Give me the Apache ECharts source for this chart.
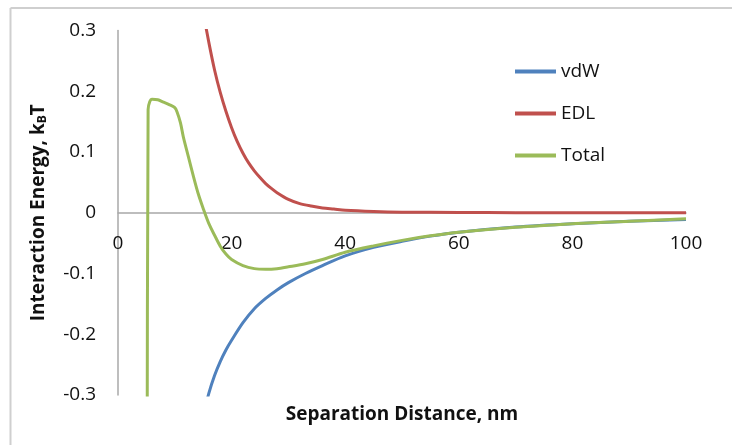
<!DOCTYPE html>
<html>
<head>
<meta charset="utf-8">
<script src="https://cdn.jsdelivr.net/npm/echarts@6/dist/echarts.min.js"></script>
<style>
html,body{margin:0;padding:0;background:#fff;}
#chart{width:732px;height:445px;}
</style>
</head>
<body>
<div id="chart"></div>
<script>
// Data (x = separation distance in nm, y = energy in kBT)
const seriesNames = ['vdW', 'EDL', 'Total'];
const xTicks = [0, 20, 40, 60, 80, 100];
const yTicks = [-0.3, -0.2, -0.1, 0, 0.1, 0.2, 0.3];

const vdwX = [15, 16, 17, 18, 19, 20, 22, 24, 26, 28, 30, 33, 36, 40, 45, 50, 55, 60, 70, 80, 90, 100];
const vdwY = [-0.335, -0.297, -0.268, -0.245, -0.226, -0.210, -0.181, -0.158, -0.141, -0.127, -0.115, -0.100, -0.087, -0.071, -0.057, -0.047, -0.0385, -0.032, -0.0235, -0.018, -0.014, -0.011];

const edlX = [15, 16, 17, 18, 19, 20, 21, 22, 23, 24, 25, 26, 27, 28, 30, 32, 34, 36, 38, 40, 45, 50, 60, 70, 80, 90, 100];
const edlY = [0.33, 0.28, 0.235, 0.198, 0.167, 0.140, 0.117, 0.098, 0.082, 0.069, 0.058, 0.048, 0.040, 0.033, 0.022, 0.015, 0.011, 0.008, 0.006, 0.004, 0.002, 0.001, 0.0005, 0.0002, 0.0001, 0.0001, 0.0001];

const totalX = [5.1, 5.3, 5.6, 6.0, 7.0, 8.0, 9.0, 10.0, 10.4, 11.0, 11.5, 12.4, 13.3, 14.1, 15.0, 16.0, 17.0, 18.0, 19.0, 20.0, 22.0, 24.0, 26.0, 28.0, 30.0, 33.0, 36.0, 40.0, 45.0, 50.0, 55.0, 60.0, 70.0, 80.0, 90.0, 100.0];
const totalY = [-0.6, 0.17, 0.183, 0.187, 0.186, 0.182, 0.178, 0.173, 0.166, 0.148, 0.125, 0.092, 0.059, 0.032, 0.007, -0.018, -0.037, -0.055, -0.068, -0.077, -0.087, -0.092, -0.093, -0.092, -0.089, -0.084, -0.077, -0.065, -0.0545, -0.0455, -0.038, -0.032, -0.024, -0.018, -0.014, -0.010];

function pairs(xs, ys) { return xs.map((x, i) => [x, ys[i]]); }

const FONT = 'Open Sans';
const chart = echarts.init(document.getElementById('chart'), null, {renderer: 'canvas'});
chart.setOption({
  backgroundColor: '#fff',
  animation: false,
  textStyle: {fontFamily: FONT},
  grid: [
    {left: 118, right: 46, top: 30.5, bottom: 50, containLabel: false, outerBoundsMode: 'none'},
    // helper grid whose bottom edge sits on y = 0, so the x tick labels hang just under the zero line
    {left: 118, right: 46, top: 30.5, bottom: 232.3, containLabel: false, outerBoundsMode: 'none'}
  ],
  legend: {
    orient: 'vertical',
    left: 515,
    top: 62,
    padding: 0,
    data: seriesNames,
    icon: 'rect',
    itemWidth: 41,
    itemHeight: 4,
    itemGap: 23,
    textStyle: {fontFamily: FONT, fontSize: 19, color: '#111'}
  },
  xAxis: [
    {
      type: 'value',
      gridIndex: 0,
      min: xTicks[0],
      max: xTicks[xTicks.length - 1],
      interval: 20,
      axisLine: {onZero: true, lineStyle: {color: '#a8a8a8', width: 1.5}},
      axisTick: {show: false},
      splitLine: {show: false},
      axisLabel: {show: false},
      name: 'Separation Distance, nm',
      nameLocation: 'middle',
      nameGap: 10,
      nameTextStyle: {fontSize: 19, fontWeight: 'bold', color: '#111', fontFamily: FONT}
    },
    {
      type: 'value',
      gridIndex: 1,
      min: xTicks[0],
      max: xTicks[xTicks.length - 1],
      interval: 20,
      axisLine: {show: false},
      axisTick: {show: false},
      splitLine: {show: false},
      axisLabel: {margin: 21, fontSize: 19, color: '#111', fontFamily: FONT}
    }
  ],
  yAxis: [
    {
      type: 'value',
      gridIndex: 0,
      min: yTicks[0],
      max: yTicks[yTicks.length - 1],
      interval: 0.1,
      axisLine: {show: true, onZero: false, lineStyle: {color: '#a8a8a8', width: 1.5}},
      axisTick: {show: false},
      splitLine: {show: false},
      axisLabel: {margin: 22, fontSize: 19, color: '#111', fontFamily: FONT,
        formatter: v => (Math.round(v * 10) / 10).toString()},
      name: 'Interaction Energy, k{sub|B}T',
      nameLocation: 'middle',
      nameGap: 69,
      nameTextStyle: {fontSize: 19, fontWeight: 'bold', color: '#111', fontFamily: FONT,
        rich: {sub: {fontSize: 12, fontWeight: 'bold', color: '#111', fontFamily: FONT, verticalAlign: 'bottom', padding: [9, 0, 0, 0]}}}
    },
    {
      type: 'value',
      gridIndex: 1,
      min: 0,
      max: 1,
      show: false
    }
  ],
  series: [
    {name: 'vdW', type: 'line', data: pairs(vdwX, vdwY), showSymbol: false, symbol: 'none', smooth: 0.3, clip: true,
      color: '#4F81BD', lineStyle: {width: 3, color: '#4F81BD'}},
    {name: 'EDL', type: 'line', data: pairs(edlX, edlY), showSymbol: false, symbol: 'none', smooth: 0.3, clip: true,
      color: '#C0504D', lineStyle: {width: 3, color: '#C0504D'}},
    {name: 'Total', type: 'line', data: pairs(totalX, totalY), showSymbol: false, symbol: 'none', smooth: 0.3, clip: true,
      color: '#9BBB59', lineStyle: {width: 3, color: '#9BBB59'}}
  ],
  graphic: [
    {type: 'line', shape: {x1: 10.5, y1: 8, x2: 732, y2: 8}, style: {stroke: '#cfcfcf', lineWidth: 2}, silent: true},
    {type: 'line', shape: {x1: 10.5, y1: 8, x2: 10.5, y2: 445}, style: {stroke: '#cfcfcf', lineWidth: 2}, silent: true}
  ]
});
</script>
</body>
</html>
